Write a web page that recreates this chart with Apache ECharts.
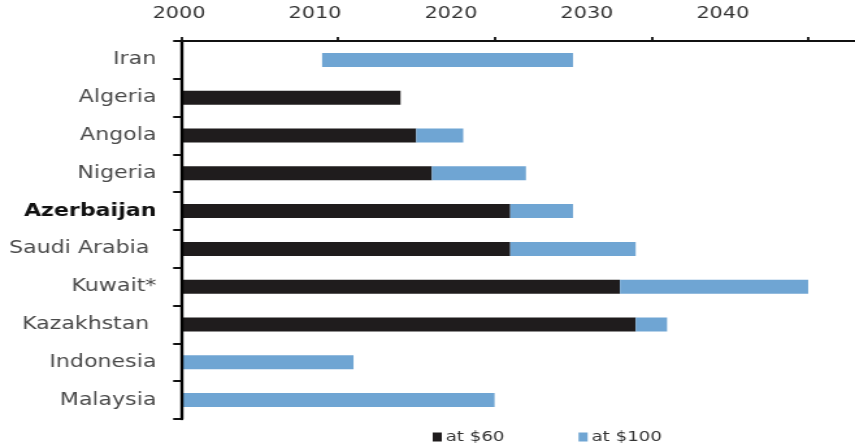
<!DOCTYPE html>
<html>
<head>
<meta charset="utf-8">
<script src="https://cdn.jsdelivr.net/npm/echarts@6/dist/echarts.min.js"></script>
<style>
  html, body { margin: 0; padding: 0; background: #fff; overflow: hidden; }
  #wrap { width: 855px; height: 444px; overflow: hidden; }
  /* the chart is laid out narrower and stretched to the full width, giving its wide lettering */
  #chart { width: 658px; height: 444px; transform-origin: 0 0; }
</style>
</head>
<body>
<div id="wrap"><div id="chart"></div></div>
<script>
// Year in which each country's resources run out, at two oil prices
const countries = ['Iran', 'Algeria', 'Angola', 'Nigeria', 'Azerbaijan', 'Saudi Arabia ', 'Kuwait*', 'Kazakhstan ', 'Indonesia', 'Malaysia'];
const yearAt60  = [2009, 2014, 2015, 2016, 2021, 2021, 2028, 2029, null, null];
const yearAt100 = [2025, 2014, 2018, 2022, 2025, 2029, 2040, 2031, 2011, 2020];
const yearTicks = [2000, 2010, 2020, 2030, 2040];

const STRETCH = 855 / 658;
document.getElementById('chart').style.transform = 'scaleX(' + STRETCH + ')';

const FONT = 'DejaVu Sans';
const gridLeft = 181 / STRETCH;
const gridRight = -4;
const spanPx = 855 - 181 - gridRight * STRETCH;
const barAxisMax = 2000 + spanPx / 15.8;   // tick axis: 10 years per tick step
const labelAxisMax = 2000 + spanPx / 13.7; // year captions run on a tighter spacing

const chart = echarts.init(document.getElementById('chart'), null, { renderer: 'canvas' });

const option = {
  animation: false,
  backgroundColor: '#fff',
  grid: { left: gridLeft, right: gridRight, top: 41, bottom: 25, containLabel: false },
  legend: {
    data: ['at $60', 'at $100'],
    left: 328, top: 425,
    icon: 'rect', itemWidth: 7, itemHeight: 9, itemGap: 57,
    selectedMode: false,
    textStyle: { fontFamily: FONT, fontSize: 14, color: '#333', padding: [0, 0, 0, -2] }
  },
  xAxis: [
    {
      type: 'value', position: 'top', z: 5,
      min: 2000, max: barAxisMax, interval: 10,
      axisLine: { show: true, lineStyle: { color: '#111', width: 2 } },
      axisTick: { show: true, inside: false, length: 4, customValues: yearTicks, lineStyle: { color: '#111', width: 1.8 } },
      axisLabel: { show: false },
      splitLine: { show: false }
    },
    {
      type: 'value', position: 'top',
      min: 2000, max: labelAxisMax, interval: 10,
      axisLine: { show: false },
      axisTick: { show: false },
      splitLine: { show: false },
      axisLabel: {
        show: true, margin: 19, customValues: yearTicks,
        padding: [0, 3, 0, 0],
        fontFamily: FONT, fontSize: 16, color: '#333',
        formatter: v => String(v)
      }
    }
  ],
  yAxis: {
    type: 'category', data: countries, inverse: true, z: 5,
    axisLine: { show: true, lineStyle: { color: '#000', width: 2.4 } },
    axisTick: { show: true, length: 6, lineStyle: { color: '#111', width: 2 } },
    axisLabel: {
      margin: 19,
      formatter: name => name === 'Azerbaijan' ? '{b|' + name + '}' : '{n|' + name + '}',
      rich: {
        n: { fontFamily: FONT, fontSize: 17, color: '#4a4a4a' },
        b: { fontFamily: FONT, fontSize: 17, color: '#111', fontWeight: 'bold' }
      }
    }
  },
  series: [
    {
      name: 'at $60', type: 'bar', stack: 'year', xAxisIndex: 0, barWidth: 14,
      itemStyle: { color: '#1f1c1d' },
      emphasis: { disabled: true },
      // Iran's $60 segment is left unfilled, so its bar floats
      data: yearAt60.map((v, i) => countries[i] === 'Iran'
        ? { value: v, itemStyle: { color: 'rgba(0,0,0,0)' } }
        : v)
    },
    {
      name: 'at $100', type: 'bar', stack: 'year', xAxisIndex: 0, barWidth: 14,
      itemStyle: { color: '#6fa5d3' },
      emphasis: { disabled: true },
      data: yearAt100.map((v, i) => v - (yearAt60[i] == null ? 0 : yearAt60[i]))
    }
  ]
};

chart.setOption(option);
</script>
</body>
</html>
